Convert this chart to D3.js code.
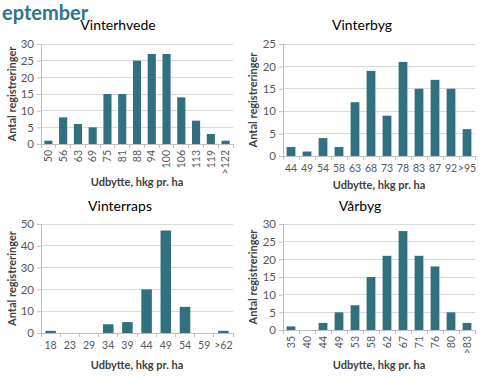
<!DOCTYPE html>
<html><head><meta charset="utf-8">
<script src="https://cdn.jsdelivr.net/npm/d3@7"></script>
<style>body{margin:0;background:#fff}svg{display:block}</style>
</head><body>
<svg id="c" width="480" height="380"></svg>
<script>
const heading = "eptember";
const titles = ["Vinterhvede", "Vinterbyg", "Vinterraps", "Vårbyg"];
const cats1 = ["50","56","63","69","75","81","88","94","100","106","113","119",">122"];
const vals1 = [1,8,6,5,15,15,25,27,27,14,7,3,1];
const cats2 = ["44","49","54","58","63","68","73","78","83","87","92",">95"];
const vals2 = [2,1,4,2,12,19,9,21,15,17,15,6];
const cats3 = ["18","23","29","34","39","44","49","54","59",">62"];
const vals3 = [1,0,0,4,5,20,47,12,0,1];
const cats4 = ["35","40","44","49","53","58","62","67","71","76","80",">83"];
const vals4 = [1,0,2,5,7,15,21,28,21,18,5,2];
const yMax = [30,25,50,30];
const yStep = [5,5,10,5];
const xTitle = "Udbytte, hkg pr. ha";
const yTitle = "Antal registreringer";

const svg = d3.select("#c");
const font = "Lato, 'Open Sans', sans-serif";
svg.append("text").attr("x",2).attr("y",20).attr("font-family",font)
  .attr("font-weight","bold").attr("font-size",20).attr("fill","#2f7686").text(heading);

const panels = [
  {cats:cats1, vals:vals1, x0:41, x1:233, yTop:44, yBot:144, rot:true, tx:118, ty:30, axY:186, ylx:12},
  {cats:cats2, vals:vals2, x0:283, x1:475, yTop:44, yBot:156, rot:false, tx:362, ty:30, axY:189, ylx:253},
  {cats:cats3, vals:vals3, x0:41, x1:233, yTop:224, yBot:333, rot:false, tx:120, ty:211, axY:369, ylx:12},
  {cats:cats4, vals:vals4, x0:283, x1:475, yTop:224, yBot:330, rot:true, tx:360, ty:211, axY:369, ylx:253}
];

panels.forEach((p,i)=>{
  const g = svg.append("g");
  const x = d3.scaleBand().domain(p.cats).range([p.x0,p.x1]).paddingInner(0.45).paddingOuter(0.225);
  const y = d3.scaleLinear().domain([0,yMax[i]]).range([p.yBot,p.yTop]);
  const ticks = d3.range(0, yMax[i]+0.001, yStep[i]);
  g.append("g").selectAll("line").data(ticks.filter(t=>t>0)).join("line")
    .attr("x1",p.x0).attr("x2",p.x1).attr("y1",d=>y(d)).attr("y2",d=>y(d))
    .attr("stroke","#d9d9d9").attr("stroke-width",1).attr("shape-rendering","crispEdges");
  const ya = g.append("g").attr("transform",`translate(${p.x0},0)`)
    .call(d3.axisLeft(y).tickValues(ticks).tickSize(4).tickPadding(3));
  ya.select(".domain").attr("stroke","#bfbfbf");
  ya.selectAll(".tick line").attr("stroke","#bfbfbf");
  ya.selectAll("text").attr("font-family",font).attr("font-size",11.5).attr("fill","#595959");
  g.append("g").selectAll("rect").data(p.vals).join("rect")
    .attr("x",(d,j)=>x(p.cats[j])).attr("width",x.bandwidth())
    .attr("y",d=>y(d)).attr("height",d=>p.yBot-y(d)).attr("fill","#31717f");
  const xa = g.append("g").attr("transform",`translate(0,${p.yBot})`)
    .call(d3.axisBottom(x).tickSize(0).tickPadding(6));
  xa.select(".domain").attr("stroke","#bfbfbf");
  const step = x.step();
  xa.selectAll(".bnd").data(d3.range(p.cats.length+1)).join("line")
    .attr("x1",j=>p.x0+j*step).attr("x2",j=>p.x0+j*step).attr("y1",0).attr("y2",4)
    .attr("stroke","#bfbfbf").attr("shape-rendering","crispEdges");
  const tl = xa.selectAll(".tick text").attr("font-family",font).attr("font-size",10.5).attr("fill","#595959");
  if (p.rot) {
    tl.attr("transform","rotate(-90)").attr("text-anchor","end").attr("dy","0.35em").attr("x",-6).attr("y",0);
  } else {
    tl.attr("y",9);
  }
  svg.append("text").attr("x",p.tx).attr("y",p.ty).attr("text-anchor","middle")
    .attr("font-family",font).attr("font-size",14).attr("fill","#000").text(titles[i]);
  svg.append("text").attr("x",(p.x0+p.x1)/2).attr("y",p.axY).attr("text-anchor","middle")
    .attr("font-family",font).attr("font-weight","bold").attr("font-size",11).attr("fill","#404040").text(xTitle);
  svg.append("text").attr("transform",`translate(${p.ylx},${(p.yTop+p.yBot)/2}) rotate(-90)`)
    .attr("text-anchor","middle").attr("dy","0.35em")
    .attr("font-family",font).attr("font-weight","bold").attr("font-size",11).attr("fill","#404040").text(yTitle);
});
</script>
</body></html>
